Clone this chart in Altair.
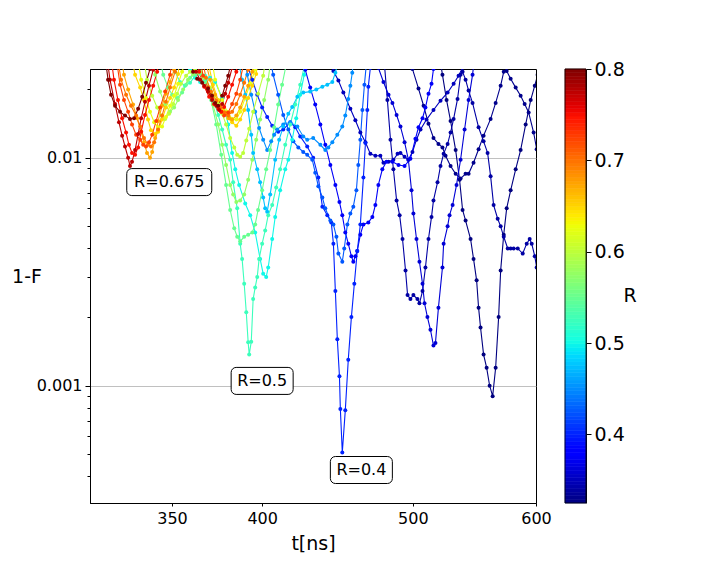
import altair as alt
import numpy as np
import pandas as pd

# ---- curves: t [ns] and 1-F for each R ----
t_800 = [316.5, 318.4, 319.8, 321.7, 324.1, 326.5, 328.9, 330.9, 332.9, 334.9, 336.8, 338.8, 339.8,
         359.0, 361.1, 363.3, 366.0, 369.2, 371.4, 373.1, 374.8, 377.0, 378.7, 380.4, 382.1, 383.2]
v_800 = [0.03, 0.022, 0.0189, 0.0169, 0.0159, 0.0153, 0.0148, 0.0149, 0.0164, 0.0185, 0.0213, 0.0245, 0.03,
         0.03, 0.0238, 0.0222, 0.0213, 0.0201, 0.0187, 0.0174, 0.0169, 0.0187, 0.0207, 0.0229, 0.0264, 0.03]

t_775 = [317.4, 319.3, 321.7, 323.6, 325.1, 326.5, 328.0, 328.9, 329.9, 331.4, 332.9, 334.4, 336.3, 338.3, 340.4, 341.4,
         360.6, 362.7, 364.9, 367.1, 369.2, 371.4, 373.7, 375.3, 377.0, 378.7, 380.4, 382.6, 383.8]
v_775 = [0.03, 0.022, 0.0172, 0.0143, 0.0125, 0.0112, 0.0100, 0.0092, 0.0096, 0.0108, 0.0127, 0.0149, 0.0176, 0.0207, 0.0243, 0.03,
         0.03, 0.0238, 0.022, 0.0207, 0.0195, 0.0179, 0.0169, 0.0162, 0.0172, 0.0191, 0.0213, 0.0248, 0.03]

t_750 = [319.3, 321.2, 323.1, 325.1, 327.0, 328.4, 329.9, 331.4, 332.9, 334.4, 336.3, 338.3, 340.4, 342.4, 343.9,
         362.2, 364.4, 367.1, 369.8, 372.5, 374.8, 376.5, 378.1, 380.4, 382.6, 385.0, 386.6]
v_750 = [0.03, 0.022, 0.0179, 0.0149, 0.0129, 0.0114, 0.0105, 0.0103, 0.0111, 0.013, 0.0154, 0.0179, 0.0207, 0.0238, 0.03,
         0.03, 0.0238, 0.0205, 0.0185, 0.0172, 0.0164, 0.0159, 0.0167, 0.0185, 0.0209, 0.0238, 0.03]

t_725 = [321.7, 324.1, 326.0, 328.0, 329.9, 331.9, 333.9, 335.4, 336.8, 338.3, 339.9, 341.9, 343.9, 346.5, 349.0, 351.1,
         363.8, 366.5, 369.2, 371.4, 374.2, 376.5, 378.1, 380.4, 382.6, 385.0, 387.2, 389.5, 390.7]
v_725 = [0.03, 0.0209, 0.0179, 0.0159, 0.014, 0.0126, 0.012, 0.0114, 0.0112, 0.0117, 0.0126, 0.0145, 0.0166, 0.0195, 0.0231, 0.03,
         0.03, 0.0229, 0.0203, 0.0183, 0.0169, 0.0159, 0.0153, 0.0158, 0.0172, 0.0191, 0.022, 0.0264, 0.03]

t_700 = [322.2, 324.6, 327.0, 329.4, 331.9, 333.9, 335.8, 337.8, 339.3, 340.9, 342.9, 344.9, 346.9, 349.0, 351.6, 353.2,
         364.9, 368.1, 370.8, 373.7, 375.9, 378.1, 380.4, 382.6, 385.0, 387.2, 389.5, 391.8, 393.6]
v_700 = [0.03, 0.022, 0.0189, 0.0169, 0.0153, 0.0137, 0.0122, 0.0114, 0.0112, 0.0117, 0.0133, 0.0153, 0.0176, 0.0203, 0.0238, 0.03,
         0.03, 0.0224, 0.0195, 0.0178, 0.0166, 0.0158, 0.0153, 0.0159, 0.0172, 0.0189, 0.0213, 0.0243, 0.03]

t_675 = [324.1, 326.0, 328.0, 330.4, 332.4, 334.4, 335.8, 337.3, 338.8, 339.9, 341.4, 342.9, 344.9, 346.9, 349.0, 351.1, 352.6,
         367.6, 370.3, 373.1, 375.9, 378.7, 381.0, 382.6, 385.0, 387.2, 389.5, 391.8, 394.2, 395.9]
v_675 = [0.03, 0.0231, 0.0199, 0.0171, 0.0149, 0.013, 0.0117, 0.0105, 0.0100, 0.0106, 0.0122, 0.0145, 0.0169, 0.0191, 0.0215, 0.0243, 0.03,
         0.0269, 0.022, 0.0189, 0.0169, 0.0158, 0.0149, 0.0147, 0.0153, 0.0166, 0.0185, 0.0207, 0.0238, 0.03]

t_650 = [328.9, 331.4, 333.9, 335.8, 337.8, 339.3, 341.4, 342.9, 344.9, 346.9, 349.0, 351.1, 353.2, 354.7,
         369.2, 371.9, 374.8, 377.6, 380.4, 382.6, 385.0, 387.2, 389.5, 391.8, 394.2, 396.5, 398.2]
v_650 = [0.03, 0.0231, 0.0203, 0.0179, 0.0147, 0.0132, 0.0127, 0.013, 0.0147, 0.0166, 0.0183, 0.0203, 0.0233, 0.03,
         0.0264, 0.0209, 0.0179, 0.0162, 0.0149, 0.0143, 0.0138, 0.0147, 0.0162, 0.0183, 0.0207, 0.0233, 0.03]

t_625 = [331.9, 334.4, 336.8, 338.8, 340.9, 342.9, 344.9, 346.9, 349.0, 351.1, 353.2, 355.3, 356.8, 358.4,
         370.3, 373.1, 377.0, 379.8, 382.6, 385.0, 387.2, 390.1, 393.0, 395.9, 397.6]
v_625 = [0.03, 0.022, 0.0183, 0.0159, 0.0143, 0.0136, 0.0137, 0.0151, 0.0169, 0.0187, 0.0211, 0.0238, 0.0264, 0.03,
         0.03, 0.022, 0.0179, 0.0159, 0.0148, 0.0147, 0.0159, 0.0183, 0.0211, 0.0243, 0.03]

t_600 = [334.9, 337.3, 339.9, 342.4, 344.4, 346.5, 348.5, 350.6, 352.7, 354.7, 357.4, 359.5, 362.2, 364.9, 367.6, 370.3,
         372.5, 374.8, 377.0, 379.2, 381.5, 383.8, 385.5, 387.2, 388.9, 390.7, 392.4, 394.7, 397.6, 400.6, 403.0]
v_600 = [0.03, 0.022, 0.0187, 0.0166, 0.0153, 0.0148, 0.0156, 0.0172, 0.0191, 0.0211, 0.0229, 0.0238, 0.0243, 0.0238, 0.0224, 0.0203,
         0.0187, 0.0172, 0.0156, 0.014, 0.0122, 0.0111, 0.0103, 0.0101, 0.0105, 0.0119, 0.0134, 0.0159, 0.0191, 0.0229, 0.03]

t_575 = [338.8, 341.4, 343.9, 346.5, 349.0, 351.1, 353.2, 355.8, 358.4, 361.1, 363.8, 366.5, 369.2, 371.9, 374.8,
         377.0, 379.2, 381.5, 383.2, 385.0, 387.2, 389.5, 391.8, 394.2, 396.5, 398.8, 401.2, 403.6, 406.0]
v_575 = [0.03, 0.0231, 0.0195, 0.0171, 0.0159, 0.0166, 0.0179, 0.0199, 0.022, 0.0233, 0.0236, 0.0224, 0.0203, 0.0171, 0.014,
         0.0114, 0.0093, 0.0076, 0.0069, 0.0064, 0.0065, 0.0069, 0.008, 0.0098, 0.012, 0.0147, 0.0179, 0.022, 0.03]

t_550 = [342.9, 345.5, 348.0, 350.1, 352.7, 355.3, 357.4, 359.5, 362.2, 364.9, 367.6, 370.9, 373.7, 376.5, 379.2, 381.5,
         383.8, 385.5, 387.2, 389.5, 391.8, 394.2, 395.9, 397.6, 400.0, 402.4, 404.8, 407.2, 409.6, 412.0, 414.5, 415.8]
v_550 = [0.03, 0.0231, 0.0203, 0.0189, 0.0183, 0.0193, 0.0209, 0.0224, 0.0233, 0.0233, 0.0215, 0.0179, 0.014, 0.0103, 0.0076, 0.0059,
         0.0049, 0.0045, 0.0043, 0.0045, 0.0046, 0.0047, 0.0051, 0.0059, 0.0072, 0.0089, 0.0108, 0.0136, 0.0171, 0.0209, 0.0256, 0.03]

t_525 = [349.0, 351.6, 354.2, 356.8, 359.5, 362.2, 364.9, 367.6, 370.3, 372.5, 374.8, 377.0, 379.2, 381.5, 383.2, 385.5,
         387.2, 388.3, 389.5, 390.7, 391.8, 392.4, 393.6, 394.7, 395.9, 397.1, 398.2, 400.0, 401.8, 403.6, 406.0, 408.4,
         410.8, 413.9, 417.0, 420.1, 423.2, 426.4, 427.6]
v_525 = [0.03, 0.0238, 0.0215, 0.0207, 0.0213, 0.0229, 0.0238, 0.0229, 0.0199, 0.0176, 0.0154, 0.0133, 0.0114, 0.0098, 0.0078, 0.006,
         0.0042, 0.0036, 0.0028, 0.0021, 0.00155, 0.00137, 0.00156, 0.0024, 0.0027, 0.003, 0.0036, 0.0042, 0.0048, 0.0056, 0.0062, 0.0074,
         0.0089, 0.0114, 0.014, 0.0171, 0.0209, 0.0264, 0.03]

t_500 = [356.8, 359.5, 362.2, 364.9, 367.6, 370.3, 373.1, 377.0, 380.4, 382.6, 384.4, 386.6, 390.1, 393.0, 395.9,
         398.8, 400.6, 402.4, 403.6, 406.0, 407.8, 410.8, 413.9, 415.8, 418.2, 420.7, 423.2, 425.7, 427.6]
v_500 = [0.03, 0.0243, 0.0224, 0.0215, 0.022, 0.0224, 0.0215, 0.0183, 0.014, 0.0105, 0.0089, 0.0076, 0.0063, 0.0056, 0.0047,
         0.0036, 0.0031, 0.003, 0.0033, 0.0044, 0.0055, 0.0072, 0.0089, 0.0098, 0.012, 0.0149, 0.0189, 0.0231, 0.03]

t_475 = [385.0, 386.6, 388.3, 390.1, 391.8, 393.6, 394.7, 397.1, 398.8, 400.6, 401.8, 403.0, 404.8, 407.8,
         410.2, 412.7, 415.8, 418.2, 421.4, 425.1, 429.5, 433.4, 437.3, 440.5, 443.8, 445.8, 447.1, 448.5]
v_475 = [0.03, 0.0256, 0.022, 0.0189, 0.0162, 0.0126, 0.0105, 0.0089, 0.0078, 0.0067, 0.006, 0.0058, 0.0069, 0.0098,
         0.012, 0.0137, 0.0156, 0.0167, 0.0185, 0.0193, 0.0195, 0.0199, 0.0205, 0.0209, 0.0215, 0.0236, 0.0256, 0.03]

t_450 = [388.9, 391.3, 393.6, 395.9, 398.2, 400.6, 403.0, 405.4, 407.2, 409.0, 412.7, 417.0, 421.4, 425.1,
         427.6, 431.4, 436.0, 439.2, 441.2, 443.8, 447.1, 450.4, 452.4, 454.4, 455.8, 457.1, 458.5]
v_450 = [0.03, 0.0231, 0.0189, 0.0159, 0.0135, 0.012, 0.0108, 0.0118, 0.0126, 0.0133, 0.014, 0.0143, 0.0137, 0.0124,
         0.012, 0.0122, 0.0114, 0.0108, 0.0111, 0.0117, 0.0126, 0.0137, 0.0153, 0.0181, 0.0207, 0.0236, 0.03]

t_425 = [403.6, 406.6, 409.6, 412.7, 415.8, 418.9, 422.0, 425.1, 427.6, 430.8, 432.7, 434.7, 437.3, 439.2, 442.5,
         444.5, 446.5, 447.8, 450.4, 451.7, 453.8, 455.8, 457.8, 459.9, 461.2, 462.6, 464.0, 465.4, 466.7, 467.4]
v_425 = [0.03, 0.0231, 0.0189, 0.0154, 0.0133, 0.0118, 0.0111, 0.0106, 0.0103, 0.0098, 0.0086, 0.0075, 0.0067, 0.006, 0.0053,
         0.0051, 0.0045, 0.0038, 0.0035, 0.004, 0.0051, 0.0057, 0.0061, 0.0072, 0.0093, 0.012, 0.0162, 0.0209, 0.0256, 0.03]

t_400 = [390.1, 391.8, 394.2, 397.1, 400.0, 403.0, 406.0, 409.6, 412.7, 417.0, 420.1, 423.2, 427.6, 431.4, 434.7, 437.3, 440.5, 443.1,
         444.5, 445.8, 447.1, 448.5, 449.1, 450.4, 452.4, 454.4, 456.5, 458.5, 460.5, 462.6, 464.7, 466.1, 467.4, 468.1, 469.5, 470.2]
v_400 = [0.03, 0.0248, 0.022, 0.0189, 0.0166, 0.0151, 0.0138, 0.013, 0.0133, 0.0143, 0.0136, 0.0124, 0.0112, 0.01, 0.0082, 0.0061, 0.0056, 0.0052,
         0.0042, 0.0026, 0.0016, 0.0011, 0.00079, 0.00051, 0.00078, 0.0013, 0.002, 0.0028, 0.0039, 0.0051, 0.0082, 0.0116, 0.0162, 0.0205, 0.0248, 0.03]

t_375 = [423.8, 426.4, 429.5, 432.7, 436.0, 439.2, 442.5, 445.8, 448.5, 450.4, 452.4, 454.4, 456.5, 457.8, 459.2, 460.5, 462.6, 464.7,
         468.1, 470.9, 473.0, 475.1, 477.9, 480.8, 485.1, 489.5, 493.9, 498.2, 501.9, 504.2, 507.2, 509.4, 511.7, 514.0, 515.5, 517.0]
v_375 = [0.03, 0.0243, 0.0203, 0.0171, 0.014, 0.0114, 0.0093, 0.0076, 0.0064, 0.0056, 0.0047, 0.0042, 0.0037, 0.0035, 0.0037, 0.0039, 0.0046, 0.0051,
         0.0052, 0.0055, 0.0062, 0.0076, 0.0089, 0.0096, 0.0096, 0.0093, 0.0092, 0.0099, 0.0121, 0.0136, 0.0149, 0.0166, 0.0191, 0.0211, 0.0245, 0.03]

t_360 = [473.7, 475.1, 478.7, 482.3, 485.1, 488.1, 490.9, 493.9, 496.7, 499.0, 500.4, 502.7, 504.9, 507.2, 508.7, 510.9,
         513.2, 515.5, 517.0, 519.3, 522.4, 523.3, 526.4, 527.9, 530.3, 533.4, 536.6, 539.8, 543.0, 546.2, 548.6]
v_360 = [0.03, 0.0248, 0.0215, 0.0189, 0.0174, 0.0154, 0.0137, 0.0117, 0.0098, 0.0072, 0.0057, 0.0044, 0.0035, 0.0028, 0.0023, 0.002,
         0.00176, 0.0015, 0.00154, 0.0022, 0.0033, 0.0042, 0.005, 0.0056, 0.0062, 0.0076, 0.0098, 0.0133, 0.0179, 0.0231, 0.03]

t_350 = [442.5, 444.5, 447.8, 451.1, 455.8, 459.2, 462.6, 466.1, 469.5, 473.0, 476.5, 478.7, 482.3, 485.8, 488.8,
         490.9, 493.9, 496.7, 499.7, 502.7, 505.7, 510.2, 515.5, 520.9, 526.4, 531.1, 535.0, 538.2, 540.6]
v_350 = [0.03, 0.024, 0.0218, 0.0193, 0.0164, 0.0146, 0.0129, 0.0117, 0.0104, 0.0102, 0.0102, 0.0095, 0.0096, 0.0098, 0.0104,
         0.0105, 0.0101, 0.0098, 0.0106, 0.012, 0.0133, 0.0147, 0.0162, 0.0178, 0.0193, 0.0211, 0.0229, 0.0248, 0.03]

t_340 = [477.9, 479.4, 481.5, 483.7, 485.8, 488.1, 490.3, 492.4, 494.6, 496.1, 498.2, 500.4, 503.4, 504.9, 507.2, 509.4, 511.7,
         514.0, 515.5, 518.6, 520.9, 523.3, 526.4, 528.7, 531.1, 534.2, 536.6, 538.2, 540.6, 543.0, 546.2, 551.1, 555.2,
         558.5, 561.0, 563.5, 566.9, 569.4, 572.0, 575.4, 577.9, 580.5, 584.0, 588.3, 591.8, 594.4, 596.2, 598.9, 600.6]
v_340 = [0.03, 0.0256, 0.0179, 0.012, 0.0089, 0.0065, 0.0056, 0.0044, 0.0032, 0.0025, 0.0024, 0.0025, 0.0024, 0.0023, 0.0026, 0.0033, 0.0044,
         0.0055, 0.0065, 0.0078, 0.0092, 0.0104, 0.0115, 0.0129, 0.0148, 0.0181, 0.0231, 0.0238, 0.022, 0.0197, 0.0174, 0.0136, 0.0118,
         0.0105, 0.0083, 0.0062, 0.0054, 0.005, 0.0045, 0.004, 0.004, 0.004, 0.004, 0.0038, 0.0042, 0.0044, 0.0042, 0.0037, 0.0033]

t_330 = [497.5, 499.7, 504.2, 508.0, 511.7, 515.5, 519.3, 522.4, 524.8, 528.7, 532.7, 536.6, 540.6, 543.0, 547.0,
         551.1, 555.2, 561.0, 565.2, 569.4, 572.0, 574.5, 577.9, 582.2, 586.5, 590.0, 593.5, 597.9, 600.6]
v_330 = [0.03, 0.0245, 0.0201, 0.0169, 0.0141, 0.0122, 0.0115, 0.0111, 0.0102, 0.0092, 0.0085, 0.0081, 0.0085, 0.0085, 0.0095,
         0.0109, 0.0125, 0.0148, 0.0174, 0.0207, 0.0238, 0.024, 0.0222, 0.0203, 0.0187, 0.0172, 0.0158, 0.0129, 0.0109]

t_325 = [519.3, 522.4, 525.6, 528.7, 532.7, 535.8, 538.2, 540.6, 544.6, 547.0, 549.5, 551.1, 552.7, 555.2, 557.7,
         560.2, 562.7, 565.2, 567.7, 569.4, 572.0, 574.5, 577.9, 582.2, 586.5, 590.9, 595.3, 598.9, 601.5]
v_325 = [0.03, 0.0231, 0.0179, 0.0145, 0.0108, 0.008, 0.0059, 0.0053, 0.0044, 0.0036, 0.0029, 0.0022, 0.0018, 0.00137, 0.0012,
         0.001, 0.0009, 0.0012, 0.002, 0.0032, 0.0046, 0.006, 0.0072, 0.0089, 0.0108, 0.014, 0.0179, 0.0207, 0.0231]

curves = [
    (0.325, t_325, v_325), (0.33, t_330, v_330), (0.34, t_340, v_340), (0.35, t_350, v_350),
    (0.36, t_360, v_360), (0.375, t_375, v_375), (0.4, t_400, v_400), (0.425, t_425, v_425),
    (0.45, t_450, v_450), (0.475, t_475, v_475), (0.5, t_500, v_500), (0.525, t_525, v_525),
    (0.55, t_550, v_550), (0.575, t_575, v_575), (0.6, t_600, v_600), (0.625, t_625, v_625),
    (0.65, t_650, v_650), (0.675, t_675, v_675), (0.7, t_700, v_700), (0.725, t_725, v_725),
    (0.75, t_750, v_750), (0.775, t_775, v_775), (0.8, t_800, v_800),
]

# annotations
ann_lbl = ["R=0.675", "R=0.5", "R=0.4"]
ann_t = [348.6, 400.0, 463.3]
ann_v = [0.00782, 0.00105, 0.000427]

# colour bar (jet) and axes
R_min, R_max = 0.325, 0.8
jet_R = [0.325, 0.3773, 0.3844, 0.4865, 0.4913, 0.5031, 0.629, 0.6338, 0.6385, 0.7478, 0.7573, 0.8]
jet_c = ["#000080", "#0000ff", "#0000ff", "#00dbff", "#00e6f7", "#15ffe2",
         "#efff08", "#f7f500", "#ffec00", "#ff1300", "#e80000", "#800000"]
cbar_ticks = [0.4, 0.5, 0.6, 0.7, 0.8]
x_ticks = [350, 400, 500, 600]
y_ticks = [0.0004, 0.0005, 0.0006, 0.0007, 0.0008, 0.0009, 0.001,
           0.002, 0.003, 0.004, 0.005, 0.006, 0.007, 0.008, 0.009, 0.01, 0.02]

rows = []
for R, ts, vs in curves:
    for i, (t, v) in enumerate(zip(ts, vs)):
        rows.append({"R": R, "t": t, "v": v, "i": i})
df = pd.DataFrame(rows)
ann = pd.DataFrame({"lbl": ann_lbl, "t": ann_t, "v": ann_v})

# colour-bar strips (the colormap itself, sampled)
edges = np.linspace(R_min, R_max, 121)
cb = pd.DataFrame({"lo": edges[:-1], "hi": edges[1:], "mid": (edges[:-1] + edges[1:]) / 2})

FONT = "DejaVu Sans"
xscale = alt.Scale(type="log", domain=[310, 600], nice=False)
yscale = alt.Scale(type="log", domain=[0.000306, 0.0245], nice=False)
cscale = alt.Scale(domain=jet_R, range=jet_c, interpolate="rgb")
major = "datum.value == 0.01 || datum.value == 0.001"

xaxis = alt.Axis(values=x_ticks, format="d", title="t[ns]", titleFontSize=19, titleFont=FONT,
                 titleFontWeight="normal", titleColor="black", titlePadding=8,
                 labelFontSize=16, labelFont=FONT, labelColor="black", labelPadding=4,
                 labelFlush=False, tickSize=3, tickColor="black", domainColor="black", grid=False)
yaxis = alt.Axis(values=y_ticks, title=None, orient="left",
                 labelExpr="datum.value == 0.01 ? '0.01' : (datum.value == 0.001 ? '0.001' : '')",
                 labelFontSize=16, labelFont=FONT, labelColor="black", labelPadding=3,
                 labelOverlap=False, labelFlush=False, tickColor="black", domainColor="black",
                 tickSize={"condition": {"test": major, "value": 5}, "value": 3},
                 grid=True, gridColor="#b0b0b0", gridWidth=0.8,
                 gridOpacity={"condition": {"test": major, "value": 1}, "value": 0})
cbaxis = alt.Axis(orient="right", offset=50, values=cbar_ticks, format=".1f", title=None,
                  labelFontSize=19, labelFont=FONT, labelColor="black", labelPadding=3,
                  labelFlush=False, labelOverlap=False, tickSize=5, tickColor="black",
                  domainColor="black", grid=False)

base = alt.Chart(df)
lines = base.mark_line(strokeWidth=1.1, clip=True).encode(
    x=alt.X("t:Q", scale=xscale, axis=xaxis),
    y=alt.Y("v:Q", scale=yscale, axis=yaxis),
    color=alt.Color("R:Q", scale=cscale, legend=None), detail="R:N", order="i:Q")
points = base.mark_circle(size=16, opacity=1, clip=True).encode(
    x="t:Q", y="v:Q", color=alt.Color("R:Q", scale=cscale, legend=None))

box_long = alt.Chart(ann).transform_filter("datum.lbl == 'R=0.675'").mark_rect(
    fill="white", stroke="black", strokeWidth=1, cornerRadius=5,
    xOffset=-42.5, x2Offset=42.5, yOffset=-13.5, y2Offset=13.5).encode(
    x="t:Q", x2="t", y="v:Q", y2="v")
box_short = alt.Chart(ann).transform_filter("datum.lbl != 'R=0.675'").mark_rect(
    fill="white", stroke="black", strokeWidth=1, cornerRadius=5,
    xOffset=-31, x2Offset=31, yOffset=-13.5, y2Offset=13.5).encode(
    x="t:Q", x2="t", y="v:Q", y2="v")
labels = alt.Chart(ann).mark_text(fontSize=16, font=FONT, align="center", baseline="middle",
                                  color="black").encode(x="t:Q", y="v:Q", text="lbl:N")

ytitle = alt.Chart(pd.DataFrame({"s": ["1-F"]})).mark_text(
    fontSize=19, font=FONT, align="center", baseline="middle", color="black").encode(
    x=alt.value(-63), y=alt.value(208), text="s:N")
ctitle = alt.Chart(pd.DataFrame({"s": ["R"]})).mark_text(
    fontSize=19, font=FONT, align="center", baseline="middle", color="black").encode(
    x=alt.value(540), y=alt.value(227), text="s:N")

main = alt.layer(lines, points, box_long, box_short, labels, ytitle, ctitle)

cbar_rects = alt.Chart(cb).mark_rect(strokeWidth=0.6).encode(
    x=alt.value(475), x2=alt.value(496),
    y=alt.Y("lo:Q", scale=alt.Scale(domain=[R_min, R_max], nice=False, zero=False), axis=cbaxis),
    y2="hi:Q",
    color=alt.Color("mid:Q", scale=cscale, legend=None),
    stroke=alt.Stroke("mid:Q", scale=cscale, legend=None))
cbar_frame = alt.Chart(pd.DataFrame({"k": [0]})).mark_rect(
    fillOpacity=0, stroke="black", strokeWidth=0.8).encode(
    x=alt.value(475), x2=alt.value(496), y=alt.value(0), y2=alt.value(434))
cbar = alt.layer(cbar_rects, cbar_frame)

chart = alt.layer(main, cbar).resolve_scale(y="independent").properties(
    width=446, height=434,
    padding={"left": 82, "top": 61, "right": 150, "bottom": 65},
    autosize=alt.AutoSizeParams(type="none"),
).configure(font=FONT).configure_view(stroke="black", strokeWidth=1)

chart.save("out.html", embed_options={"renderer": "svg", "actions": False})
